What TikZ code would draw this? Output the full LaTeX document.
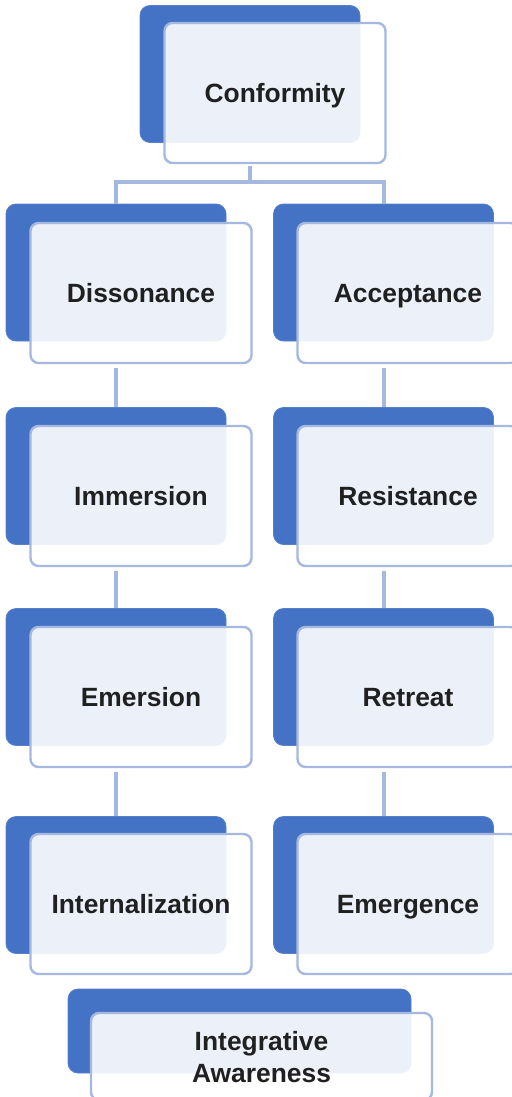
\documentclass[tikz,border=0pt]{standalone}
\usepackage{fontspec}
\setmainfont{Liberation Sans}
\begin{document}
\begin{tikzpicture}[
        x=0.5pt,
        y=-0.5pt,
        backbox/.style={
            rectangle,
            rounded corners=5pt,
            fill=darkblue,
            draw=darkblue!90!white,
            line width=0.4pt,
            minimum width=110pt,
            minimum height=68.5pt
          },
        frontbox/.style={
            rectangle,
            rounded corners=4pt,
            fill=white,
            fill opacity=0.9,
            text opacity=1,
            draw=lightblue,
            line width=1.2pt,
            minimum width=110.5pt,
            minimum height=70pt,
            text depth=0pt,
            text=textgray,
            align=center,
            font=\fontsize{13.2pt}{16pt}\selectfont\bfseries
          },
        link/.style={
            draw=lightblue,
            line width=2pt
          }]
        % Define colors
        \definecolor{darkblue}{HTML}{4472C4}
        \definecolor{lightblue}{RGB}{164,184,224}
        \definecolor{textgray}{RGB}{32,32,32}

        \useasboundingbox (0,0) rectangle (512,1097);

        % Top box
        \node[backbox] (conf-b) at (250,74) {};
        \node[frontbox] (conf) at (275,93) {Conformity};

        % Left column
        \node[backbox] (diss-b) at (116,272.5) {};
        \node[frontbox] (diss) at (141,293) {Dissonance};
        \node[backbox] (imm-b) at (116,476) {};
        \node[frontbox] (imm) at (141,496) {Immersion};
        \node[backbox] (emer-b) at (116,677) {};
        \node[frontbox] (emer) at (141,697) {Emersion};
        \node[backbox] (intern-b) at (116,885) {};
        \node[frontbox] (intern) at (141,904) {Internalization};

        % Right column
        \node[backbox] (acc-b) at (383.5,272.5) {};
        \node[frontbox] (acc) at (408,293) {Acceptance};
        \node[backbox] (res-b) at (383.5,476) {};
        \node[frontbox] (res) at (408,496) {Resistance};
        \node[backbox] (ret-b) at (383.5,677) {};
        \node[frontbox] (ret) at (408,697) {Retreat};
        \node[backbox] (emerg-b) at (383.5,885) {};
        \node[frontbox] (emerg) at (408,904) {Emergence};

        % Bottom box
        \node[backbox, minimum width=171.5pt, minimum height=42pt] (integ-b) at (239.5,1031) {};
        \node[frontbox, minimum width=170.5pt, minimum height=43.5pt] (integ) at (261.5,1056.5) {Integrative\\Awareness};

        % Connectors
        \coordinate (fork) at (250,182);
        \draw[link, shorten <=1pt] (conf-b |- conf.south) -- (fork);
        \draw[link] (diss-b.north) |- (fork) -| (acc-b.north);
        \draw[link, shorten <=2pt] (diss-b |- diss.south) -- (imm-b.north);
        \draw[link, shorten <=2pt] (imm-b |- imm.south) -- (emer-b.north);
        \draw[link, shorten <=2pt] (emer-b |- emer.south) -- (intern-b.north);
        \draw[link, shorten <=2pt] (acc-b |- acc.south) -- (res-b.north);
        \draw[link, shorten <=2pt] (res-b |- res.south) -- (ret-b.north);
        \draw[link, shorten <=2pt] (ret-b |- ret.south) -- (emerg-b.north);
    \end{tikzpicture}
\end{document}
